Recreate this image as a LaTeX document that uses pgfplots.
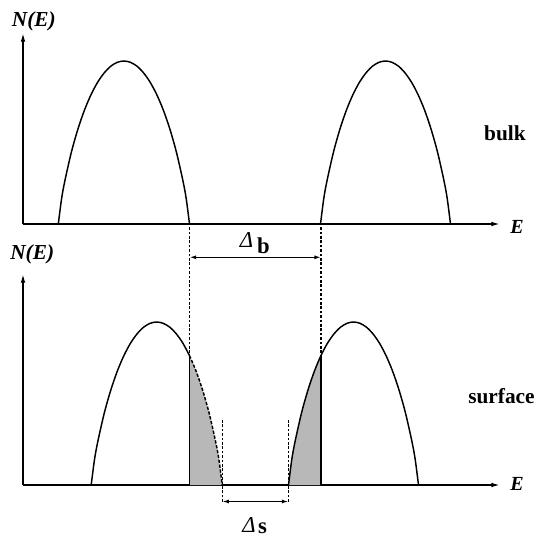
\documentclass[border=0pt]{standalone}
\usepackage{fontspec}
\setmainfont{Liberation Serif}
\usepackage{pgfplots}
\pgfplotsset{compat=1.18}
\usetikzlibrary{arrows.meta}

% one unit = 0.75pt in both directions, so the two panels share a scale
\pgfplotsset{
  dos/.style={
    x=0.75pt, y=0.75pt, xmin=23, xmax=500, ymin=0, enlargelimits=false,
    axis lines=left, xtick=\empty, ytick=\empty, clip=false,
    axis line style={line width=1.1pt, -{Latex[length=6.5pt,width=3.5pt]}},
    anchor=south west,
  },
}
\tikzset{
  band/.style={black, line width=1.1pt, smooth},
  guide/.style={black, line width=1pt, dash pattern=on 2pt off 1.3pt},
  gap/.style={black, line width=1pt, {Latex[length=5pt,width=3pt]}-{Latex[length=5pt,width=3pt]}},
  lbl/.style={anchor=base west, inner sep=0pt},
}

\begin{document}
\fontsize{16}{19}\selectfont
\begin{tikzpicture}
\useasboundingbox (0,0) rectangle (402.75pt,-402pt);

% ---- bulk density of states ----
\begin{axis}[dos, ymax=191, at={(17.25pt,-168pt)}]
\addplot[band] coordinates {
  (58.3,0) (61.58,25.3) (64.86,43.2) (71.42,72.0) (77.98,95.1) (84.54,114.1)
  (91.1,129.5) (97.66,141.8) (104.22,151.1) (110.78,157.8) (117.34,161.7)
  (123.9,163) (130.46,161.7) (137.02,157.8) (143.58,151.1) (150.14,141.8)
  (156.7,129.5) (163.26,114.1) (169.82,95.1) (176.38,72.0) (182.94,43.2)
  (186.22,25.3) (189.5,0)};
\addplot[band] coordinates {
  (320.5,0) (323.75,25.3) (327,43.2) (333.5,72.0) (340,95.1) (346.5,114.1)
  (353,129.5) (359.5,141.8) (366,151.1) (372.5,157.8) (379,161.7)
  (385.5,163) (392,161.7) (398.5,157.8) (405,151.1) (411.5,141.8)
  (418,129.5) (424.5,114.1) (431,95.1) (437.5,72.0) (444,43.2)
  (447.25,25.3) (450.5,0)};
\node[lbl] at (axis cs:11.7,198) {\bfseries\itshape N(E)};
\node[lbl] at (axis cs:510,-9) {\fontsize{15}{18}\selectfont\bfseries\itshape E};
\node[anchor=base, inner sep=0pt] at (axis cs:505,83.3) {\bfseries bulk};
\end{axis}

% ---- surface density of states ----
\begin{axis}[dos, ymax=211, at={(17.25pt,-363.75pt)}]
% states pushed into the bulk gap
\addplot[fill=black!28, draw=none, smooth] coordinates {
  (189.45,129.5) (196,114.1) (202.55,95.1) (209.1,72.0) (215.65,43.2)
  (218.93,25.3) (222.2,0)} \closedcycle;
\addplot[fill=black!28, draw=none, smooth] coordinates {
  (288.5,0) (291.75,25.3) (295,43.2) (301.5,72.0) (308,95.1) (314.5,114.1)
  (321,129.5)} \closedcycle;
\addplot[black, line width=1.1pt] coordinates {(189.45,0) (189.45,129.5)};
\addplot[black, line width=1.1pt] coordinates {(321,0) (321,129.5)};

\addplot[band] coordinates {
  (91.2,0) (94.48,25.3) (97.75,43.2) (104.3,72.0) (110.85,95.1) (117.4,114.1)
  (123.95,129.5) (130.5,141.8) (137.05,151.1) (143.6,157.8) (150.15,161.7)
  (156.7,163) (163.25,161.7) (169.8,157.8) (176.35,151.1) (182.9,141.8)
  (189.45,129.5)};
\addplot[band, dash pattern=on 2.5pt off 1.2pt] coordinates {
  (189.45,129.5) (196,114.1) (202.55,95.1) (209.1,72.0) (215.65,43.2)
  (218.93,25.3) (222.2,0)};
\addplot[band] coordinates {
  (288.5,0) (291.75,25.3) (295,43.2) (301.5,72.0) (308,95.1) (314.5,114.1)
  (321,129.5) (327.5,141.8) (334,151.1) (340.5,157.8) (347,161.7)
  (353.5,163) (360,161.7) (366.5,157.8) (373,151.1) (379.5,141.8)
  (386,129.5) (392.5,114.1) (399,95.1) (405.5,72.0) (412,43.2)
  (415.25,25.3) (418.5,0)};

% bulk gap
\addplot[guide] coordinates {(189.5,0) (189.5,261)};
\addplot[guide] coordinates {(321,0) (321,261)};
\addplot[gap] coordinates {(189.5,227.7) (321,227.7)};
\node[lbl] at (axis cs:239.5,238) {\fontsize{17}{20}\selectfont\itshape Δ\hspace{3pt}\raisebox{-4.5pt}{\upshape\bfseries b}};

% surface gap
\addplot[guide] coordinates {(222.2,65) (222.2,-16.5)};
\addplot[guide] coordinates {(288.5,65) (288.5,-16.5)};
\addplot[gap] coordinates {(222.2,-16.5) (288.5,-16.5)};
\node[lbl] at (axis cs:242,-47) {\fontsize{17}{20}\selectfont\itshape Δ\hspace{2pt}\raisebox{-0.8pt}{\upshape\bfseries s}};

\node[lbl] at (axis cs:10,226) {\bfseries\itshape N(E)};
\node[lbl] at (axis cs:510,-5.5) {\fontsize{15}{18}\selectfont\bfseries\itshape E};
\node[anchor=base, inner sep=0pt] at (axis cs:501.5,81.7) {\bfseries surface};
\end{axis}
\end{tikzpicture}
\end{document}
